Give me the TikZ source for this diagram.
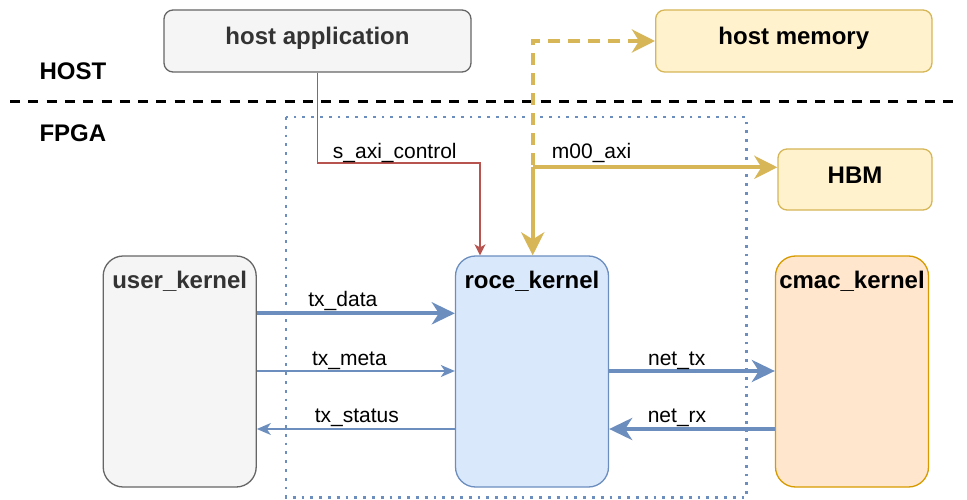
\documentclass[tikz,border=0pt]{standalone}
\usepackage{fontspec}
\setmainfont{Liberation Sans}
\usetikzlibrary{arrows.meta}
\definecolor{gfill}{HTML}{F5F5F5}
\definecolor{gline}{HTML}{666666}
\definecolor{gtext}{HTML}{333333}
\definecolor{bfill}{HTML}{DAE8FC}
\definecolor{bline}{HTML}{6C8EBF}
\definecolor{yfill}{HTML}{FFF2CC}
\definecolor{yline}{HTML}{D6B656}
\definecolor{ofill}{HTML}{FFE6CC}
\definecolor{oline}{HTML}{D79B00}
\definecolor{rline}{HTML}{B85450}
\begin{document}
\begin{tikzpicture}[x=1pt,y=-1pt,
  box/.style={draw, line width=1.3pt, inner sep=0pt,
    font=\bfseries\fontsize{24}{28}\selectfont, text height=14pt, text depth=7pt},
  smallbox/.style={box, rounded corners=9pt},
  kbox/.style={draw, line width=1.3pt, rounded corners=20pt, inner sep=0pt,
    minimum width=153pt, minimum height=231pt},
  ktitle/.style={font=\bfseries\fontsize{24}{28}\selectfont, inner sep=0pt, anchor=base},
  sect/.style={font=\bfseries\fontsize{24}{28}\selectfont, inner sep=0pt, anchor=base west},
  lbl/.style={font=\fontsize{21}{25}\selectfont, inner sep=0pt, anchor=base},
  thinarrow/.style={draw=bline, line width=1.5pt, -{Stealth[length=14pt,width=12pt,inset=4pt]}},
  thickarrow/.style={draw=bline, line width=4pt, -{Stealth[length=23pt,width=22pt,inset=7pt]}},
  goldarrow/.style={draw=yline, line width=4pt, -{Stealth[length=23pt,width=23pt,inset=7pt]}},
  golddash/.style={goldarrow, dash pattern=on 12pt off 8pt},
  redarrow/.style={draw=rline, line width=1.7pt, -{Stealth[length=11pt,width=11pt,inset=3pt]}}
]
\useasboundingbox (0,0) rectangle (967,500);

% FPGA region (dotted)
\draw[bline, line width=2.6pt, dash pattern=on 2.8pt off 6pt] (286,117) rectangle (746.7,497.5);

% HOST / FPGA divider
\draw[black, line width=3pt, dash pattern=on 10pt off 8.3pt] (10,101.7) -- (958,101.7);
\node[sect] (host) at (39.3,80) {HOST};
\node[sect] (fpga) at (39.3,141.7) {FPGA};

% top boxes
\node[smallbox, fill=gfill, draw=gline, text=gtext, minimum width=307pt, minimum height=62pt] (app) at (317.5,41) {host application};
\node[smallbox, fill=yfill, draw=yline, minimum width=276.3pt, minimum height=62pt] (hm) at (793.8,41) {host memory};
\node[smallbox, fill=yfill, draw=yline, minimum width=154pt, minimum height=61pt] (hbm) at (855,179.5) {HBM};

% kernels
\node[kbox, fill=gfill, draw=gline] (uk) at (179.7,371.5) {};
\node[kbox, fill=bfill, draw=bline] (rk) at (532,371.5) {};
\node[kbox, fill=ofill, draw=oline] (ck) at (852,371.5) {};
\node[ktitle, text=gtext] (ukt) at ([yshift=-33.3pt]uk.north) {user\_kernel};
\node[ktitle] (rkt) at ([yshift=-33.3pt]rk.north) {roce\_kernel};
\node[ktitle] (ckt) at ([yshift=-33.3pt]ck.north) {cmac\_kernel};

% user <-> roce
\draw[thickarrow] ([yshift=58.2pt]uk.east) -- ([yshift=58.2pt]rk.west)
  node[lbl, pos=0.5, xshift=-13pt, yshift=6.6pt] {tx\_data};
\draw[thinarrow] ([yshift=0.5pt]uk.east) -- ([yshift=0.5pt]rk.west)
  node[lbl, pos=0.5, xshift=-6.5pt, yshift=6pt] {tx\_meta};
\draw[thinarrow] ([yshift=-57.5pt]rk.west) -- ([yshift=-57.5pt]uk.east)
  node[lbl, pos=0.5, xshift=1pt, yshift=6.3pt] {tx\_status};

% roce <-> cmac
\draw[thickarrow] ([yshift=0.5pt]rk.east) -- ([yshift=0.5pt]ck.west)
  node[lbl, pos=0.5, xshift=-15.3pt, yshift=6pt] {net\_tx};
\draw[thickarrow] ([yshift=-57.5pt]ck.west) -- ([yshift=-57.5pt]rk.east)
  node[lbl, pos=0.5, xshift=-15pt, yshift=6.3pt] {net\_rx};

% control from host
\coordinate (sj) at (480,163.3);
\draw[redarrow] (app.south) |- (sj) -- (sj |- rk.north);
\node[lbl, anchor=base west] (sl) at (332.7,158.3) {s\_axi\_control};

% memory interface
\coordinate (gj) at (532.7,167.3);
\draw[goldarrow] (gj) -- (gj |- rk.north);
\draw[goldarrow] (gj) -- (gj -| hbm.west);
\draw[golddash] ([yshift=2pt]gj) |- (hm.west);
\node[lbl, anchor=base west] (ml) at (551.7,158.3) {m00\_axi};
\end{tikzpicture}
\end{document}
